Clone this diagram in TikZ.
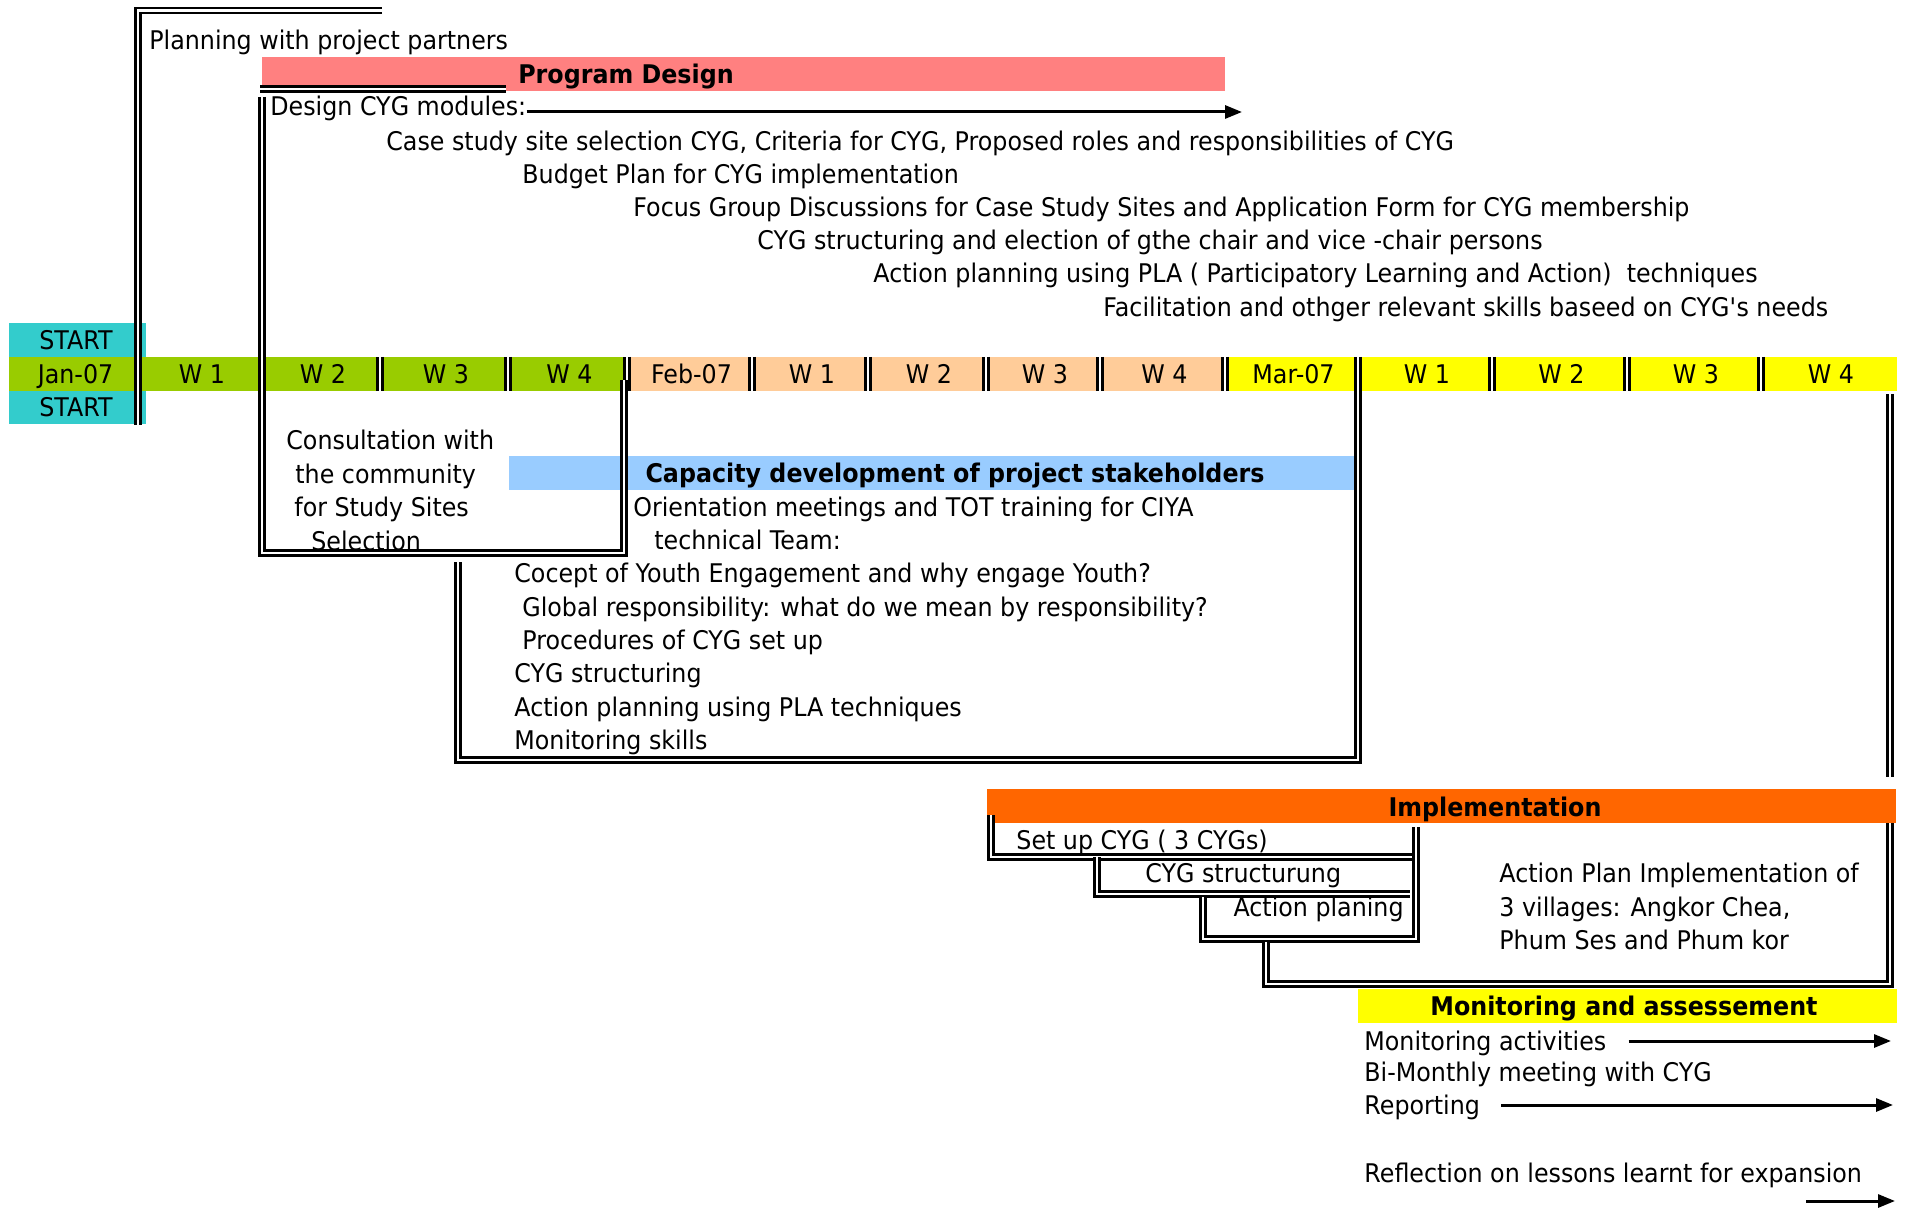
\documentclass[tikz,border=0pt]{standalone}
\usepackage{fontspec}
\setmainfont{DejaVu Sans}[FakeStretch=0.925]
\usepackage{tikz}
\usetikzlibrary{arrows.meta}
\usepackage{xcolor}
\definecolor{pdpink}{HTML}{FF8080}
\definecolor{cdblue}{HTML}{99CCFF}
\definecolor{imorange}{HTML}{FF6600}
\definecolor{mayellow}{HTML}{FFFF00}
\definecolor{jangreen}{HTML}{99CC00}
\definecolor{febpeach}{HTML}{FFCC99}
\definecolor{startcyan}{HTML}{33CCCC}

\begin{document}
\begin{tikzpicture}[x=0.5pt,y=-0.5pt,
  font=\fontsize{12.85pt}{15pt}\selectfont,
  lbl/.style={inner sep=0pt,text height=9.4pt,text depth=0pt},
  txt/.style={lbl,anchor=west},
  head/.style={lbl,font=\fontsize{12.85pt}{15pt}\selectfont\bfseries},
  dbl/.style={double=white,double distance=1.4pt,line width=1.1pt},
  arr/.style={line width=1.5pt,-{Triangle[length=8.5pt,width=6.5pt]}}]
  \path[use as bounding box,fill=white] (0,0) rectangle (1908,1209);
  % coloured bars
  \fill[pdpink] (262,57) rectangle (1225,91);
  \fill[cdblue] (509,456) rectangle (1359,490);
  \fill[imorange] (987,789) rectangle (1896,823);
  \fill[mayellow] (1358,989) rectangle (1897,1023);
  \fill[startcyan] (9,323) rectangle (146,357);
  \fill[startcyan] (9,391) rectangle (146,424);
  \node[lbl] (start1) at (76,340) {START};
  \node[lbl] (start2) at (76,407) {START};
  % time line: months and weeks
  \foreach \xa/\xb/\lab/\col [count=\i] in {9/138/Jan-07/jangreen, 138/262/W 1/jangreen,
      262/380/W 2/jangreen, 380/508/W 3/jangreen, 508/627/W 4/jangreen,
      627/752/Feb-07/febpeach, 752/868/W 1/febpeach, 868/986/W 2/febpeach,
      986/1100/W 3/febpeach, 1100/1225/W 4/febpeach, 1225/1358/Mar-07/mayellow,
      1358/1492/W 1/mayellow, 1492/1627/W 2/mayellow, 1627/1761/W 3/mayellow,
      1761/1897/W 4/mayellow} {
    \fill[\col] (\xa,357) rectangle (\xb,391);
    \node[lbl] (wk\i) at ({(\xa+\xb)/2+2},374) {\lab};
  }
  \foreach \xs in {262,380,508,627,752,868,986,1100,1225,1358,1492,1627,1761}
    \draw[dbl] (\xs,357) -- (\xs,391);
  % planning and program design
  \draw[dbl] (382,10.5) -- (138,10.5) -- (138,425);
  \draw[dbl] (260,89) -- (506,89);
  \draw[dbl] (262,97) -- (262,357);
  \node[txt] (plan) at (149,40) {Planning with project partners};
  \node[head] (pdesign) at (626,74) {Program Design};
  \node[txt] (design) at (270,106) {Design CYG modules:};
  \coordinate (dsgnend) at (1242,112);
  \draw[arr] (design.east |- dsgnend) -- (dsgnend);
  \node[txt] (casesel) at (386,141) {Case study site selection CYG, Criteria for CYG, Proposed roles and responsibilities of CYG};
  \node[txt] (budget) at (522,174) {Budget Plan for CYG implementation};
  \node[txt] (fgd) at (633,207) {Focus Group Discussions for Case Study Sites and Application Form for CYG membership};
  \node[txt] (cygelect) at (757,240) {CYG structuring and election of gthe chair and vice -chair persons};
  \node[txt] (plaplan) at (873,273) {Action planning using PLA ( Participatory Learning and Action)~ techniques};
  \node[txt] (facil) at (1103,307) {Facilitation and othger relevant skills baseed on CYG\textquotesingle s needs};
  % consultation
  \draw[dbl] (262,391) -- (262,553) -- (624,553) -- (624,380);
  \node[txt] (consult1) at (286,440) {Consultation with};
  \node[txt] (consult2) at (295,474) {the community};
  \node[txt] (consult3) at (294,507) {for Study Sites};
  \node[txt] (consult4) at (311,541) {Selection};
  % capacity development
  \draw[dbl] (458,562) -- (458,760) -- (1358,760) -- (1358,391);
  \node[head] (capdev) at (955,473) {Capacity development of project stakeholders};
  \node[txt] (orient) at (633,507) {Orientation meetings and TOT training for CIYA};
  \node[txt] (techteam) at (654,540) {technical Team:};
  \node[txt] (concept) at (514,573) {Cocept of Youth Engagement and why engage Youth?};
  \node[txt] (global) at (522,607) {Global responsibility: what do we mean by responsibility?};
  \node[txt] (proced) at (522,640) {Procedures of CYG set up};
  \node[txt] (cygstruct) at (514,673) {CYG structuring};
  \node[txt] (plaskill) at (514,707) {Action planning using PLA techniques};
  \node[txt] (monskill) at (514,740) {Monitoring skills};
  % implementation
  \draw[dbl] (1890,394) -- (1890,777);
  \node[head] (impl) at (1495,807) {Implementation};
  \draw[dbl] (991,815) -- (991,857) -- (1415,857);
  \draw[dbl] (1097,857) -- (1097,894) -- (1410,894);
  \draw[dbl] (1203,897) -- (1203,939) -- (1416,939) -- (1416,827);
  \draw[dbl] (1266,942) -- (1266,984) -- (1890,984) -- (1890,823);
  \node[txt] (setup) at (1016,840) {Set up CYG ( 3 CYGs)};
  \node[txt] (cygstr) at (1145,873) {CYG structurung};
  \node[lbl,anchor=east] (actplan) at (1404,907) {Action planing};
  \node[txt] (apimpl1) at (1499,873) {Action Plan Implementation of};
  \node[txt] (apimpl2) at (1499,907) {3 villages: Angkor Chea,};
  \node[txt] (apimpl3) at (1499,940) {Phum Ses and Phum kor};
  % monitoring
  \node[head] (monassess) at (1624,1006) {Monitoring and assessement};
  \node[txt] (monact) at (1364,1041) {Monitoring activities};
  \node[txt] (bimonth) at (1364,1072) {Bi-Monthly meeting with CYG};
  \node[txt] (report) at (1364,1105) {Reporting};
  \node[txt] (reflect) at (1364,1173) {Reflection on lessons learnt for expansion};
  \coordinate (monend) at (1891,1041);
  \coordinate (repend) at (1893,1105);
  \coordinate (reflbeg) at (1806,1201);
  \coordinate (reflend) at (1895,1201);
  \draw[arr] ([xshift=11pt]monact.east) -- (monend);
  \draw[arr] ([xshift=10.5pt]report.east) -- (repend);
  \draw[arr] (reflbeg) -- (reflend);
\end{tikzpicture}
\end{document}
